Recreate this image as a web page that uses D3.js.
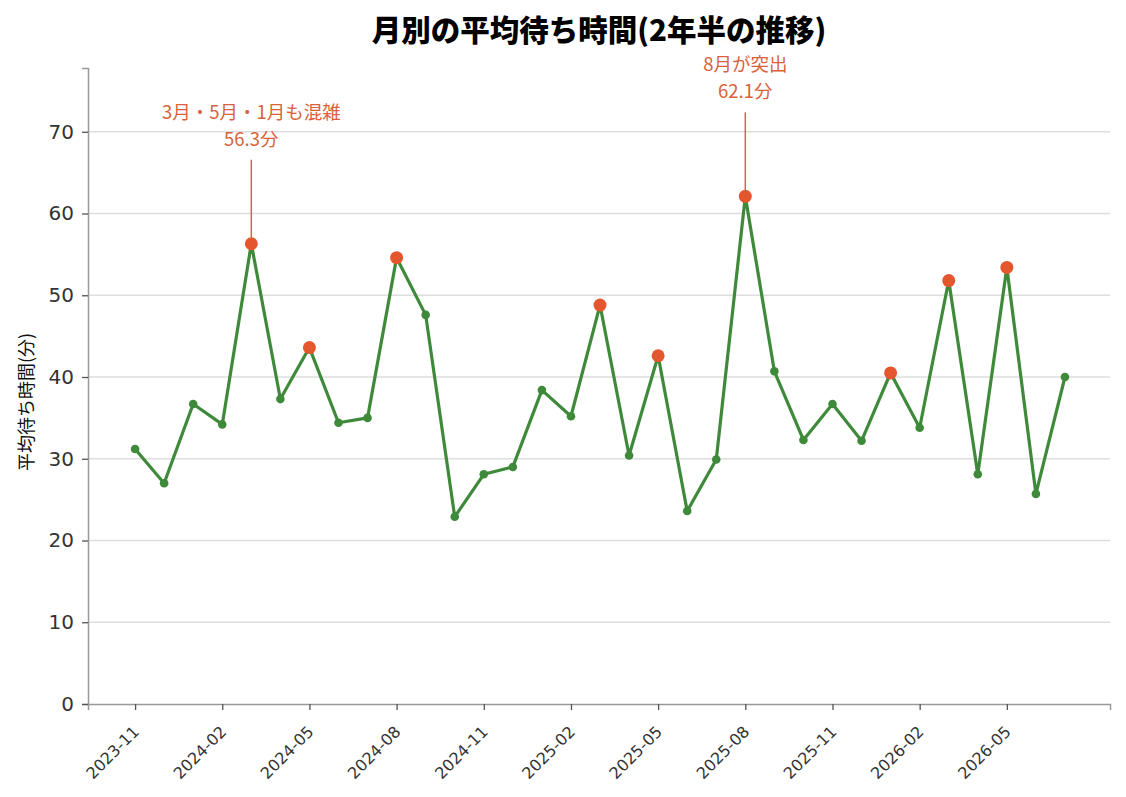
<!DOCTYPE html>
<html>
<head>
<meta charset="utf-8">
<script src="https://cdn.jsdelivr.net/npm/d3@7"></script>
<style>
  body { margin: 0; background: #fff; }
  svg { font-family: "Noto Sans CJK JP", "Noto Sans", sans-serif; }
  .tick text { font-family: "DejaVu Sans", "Noto Sans CJK JP", sans-serif; }
</style>
</head>
<body>
<svg></svg>
<script>
let months = [
  "2023-11", "2023-12", "2024-01", "2024-02", "2024-03", "2024-04", "2024-05",
  "2024-06", "2024-07", "2024-08", "2024-09", "2024-10", "2024-11", "2024-12",
  "2025-01", "2025-02", "2025-03", "2025-04", "2025-05", "2025-06", "2025-07",
  "2025-08", "2025-09", "2025-10", "2025-11", "2025-12", "2026-01", "2026-02",
  "2026-03", "2026-04", "2026-05", "2026-06", "2026-07"
];
let waits = [
  31.2, 27.0, 36.7, 34.2, 56.3, 37.3, 43.6,
  34.4, 35.0, 54.6, 47.6, 22.9, 28.1, 29.0,
  38.4, 35.2, 48.8, 30.4, 42.6, 23.6, 29.9,
  62.1, 40.7, 32.3, 36.7, 32.2, 40.5, 33.8,
  51.8, 28.1, 53.4, 25.7, 40.0
];
// months drawn with the red marker
let busyMonths = [
  "2024-03", "2024-05", "2024-08", "2025-03", "2025-05", "2025-08",
  "2026-01", "2026-03", "2026-05"
];
let yTicks = [0, 10, 20, 30, 40, 50, 60, 70];
let xTickLabels = ["2023-11", "2024-02", "2024-05", "2024-08", "2024-11", "2025-02",
  "2025-05", "2025-08", "2025-11", "2026-02", "2026-05"];
let notes = [
  { month: "2024-03", lines: ["3月・5月・1月も混雑", "56.3分"] },
  { month: "2025-08", lines: ["8月が突出", "62.1分"] }
];

let width = 1126;
let height = 797;
let margin = { top: 68, right: 16, bottom: 93, left: 88 };

let green = "#3f8a3a";
let red = "#e4572e";
let noteColor = "#d9623c";

let svg = d3.select("svg").attr("width", width).attr("height", height);

let values = months.map((m, i) => ({ month: m, i: i, value: waits[i] }));

let xScale = d3.scaleLinear()
  .domain([-1.62, months.length - 1 + 1.55])
  .range([margin.left, width - margin.right]);

let yScale = d3.scaleLinear()
  .domain([0, 77.8])
  .range([height - margin.bottom, margin.top]);

// grid
svg.append("g")
  .selectAll("line")
  .data(yTicks.filter(t => t > 0))
  .enter()
  .append("line")
  .attr("x1", margin.left)
  .attr("x2", width - margin.right)
  .attr("y1", d => yScale(d))
  .attr("y2", d => yScale(d))
  .attr("stroke", "#dedede")
  .attr("stroke-width", 1.3);

// axes
let xAxis = d3.axisBottom(xScale)
  .tickValues(xTickLabels.map(m => months.indexOf(m)))
  .tickFormat(i => months[i])
  .tickSizeOuter(0)
  .tickSize(6);

let gx = svg.append("g")
  .attr("transform", "translate(0," + (height - margin.bottom) + ")")
  .call(xAxis);
gx.select(".domain").attr("stroke", "#999").attr("stroke-width", 1.5);
gx.selectAll(".tick line").attr("stroke", "#555").attr("stroke-width", 1.3);
gx.selectAll(".tick text")
  .attr("fill", "#333")
  .style("font-size", "16px")
  .attr("text-anchor", "end")
  .attr("x", -17)
  .attr("y", 18)
  .attr("dy", "0.35em")
  .attr("transform", "rotate(-45)");

let yAxis = d3.axisLeft(yScale).tickValues(yTicks).tickSizeOuter(0).tickSize(6);
let gy = svg.append("g")
  .attr("transform", "translate(" + margin.left + ",0)")
  .call(yAxis);
gy.select(".domain").attr("stroke", "#999").attr("stroke-width", 1.5);
gy.selectAll(".tick line").attr("stroke", "#555").attr("stroke-width", 1.3);
gy.selectAll(".tick text").attr("fill", "#333").style("font-size", "20px").attr("x", -14);

// y label
svg.append("text")
  .attr("transform", "translate(33," + (margin.top + (height - margin.bottom - margin.top) / 2 + 16) + ") rotate(-90)")
  .attr("text-anchor", "middle")
  .style("font-size", "18px")
  .attr("fill", "#111")
  .text("平均待ち時間(分)");

// title
svg.append("text")
  .attr("x", (margin.left + width - margin.right) / 2)
  .attr("y", 41)
  .attr("text-anchor", "middle")
  .style("font-size", "29.5px")
  .style("font-weight", "900")
  .attr("fill", "#000")
  .text("月別の平均待ち時間(2年半の推移)");

// line
let line = d3.line().x(d => xScale(d.i)).y(d => yScale(d.value));
svg.append("path")
  .datum(values)
  .attr("fill", "none")
  .attr("stroke", green)
  .attr("stroke-width", 3.2)
  .attr("stroke-linejoin", "round")
  .attr("d", line);

let isBusy = d => busyMonths.includes(d.month);

svg.selectAll(".dot")
  .data(values)
  .enter()
  .append("circle")
  .attr("class", "dot")
  .attr("cx", d => xScale(d.i))
  .attr("cy", d => yScale(d.value))
  .attr("r", d => (isBusy(d) ? 6.5 : 4.3))
  .attr("fill", d => (isBusy(d) ? red : green));

// annotations
notes.forEach(n => {
  let d = values[months.indexOf(n.month)];
  let px = xScale(d.i);
  let py = yScale(d.value);
  svg.append("line")
    .attr("x1", px).attr("x2", px)
    .attr("y1", py - 6).attr("y2", py - 84)
    .attr("stroke", noteColor)
    .attr("stroke-width", 1.5);
  n.lines.forEach((t, k) => {
    svg.append("text")
      .attr("x", px)
      .attr("y", py - 125 + k * 27)
      .attr("text-anchor", "middle")
      .style("font-size", "18.5px")
      .attr("fill", noteColor)
      .text(t);
  });
});
</script>
</body>
</html>
